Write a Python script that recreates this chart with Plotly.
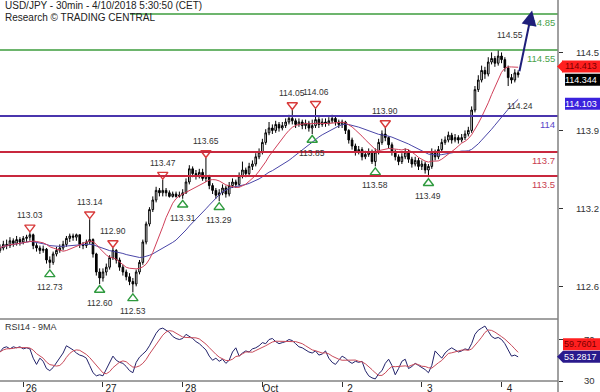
import plotly.graph_objects as go
import pandas as pd

# ---------------- data (30min USD/JPY, hourly resolution) ----------------
first_open = 112.88
closes = [
    112.90, 112.93, 112.92, 112.96, 112.94, 112.97, 112.95, 112.98, 112.99, 113.01,
    112.92, 112.90, 112.88, 112.89, 112.80, 112.78, 112.85, 112.88, 112.90, 112.93,
    112.98, 113.00, 112.99, 113.01, 112.93, 112.92, 112.95, 112.97, 112.85, 112.70,
    112.65, 112.70, 112.74, 112.82, 112.88, 112.80, 112.74, 112.70, 112.66, 112.62,
    112.60, 112.70, 112.78, 112.95, 113.10, 113.22, 113.30, 113.38, 113.36, 113.38,
    113.36, 113.33, 113.35, 113.33, 113.34, 113.36, 113.45, 113.56, 113.52, 113.50,
    113.53, 113.48, 113.50, 113.42, 113.38, 113.34, 113.36, 113.40, 113.35, 113.42,
    113.45, 113.43, 113.50, 113.55, 113.52, 113.58, 113.60, 113.66, 113.70, 113.78,
    113.86, 113.90, 113.88, 113.93, 113.90, 113.92, 113.95, 113.98, 113.96, 113.93,
    113.95, 113.92, 113.94, 113.90, 113.92, 113.97, 113.93, 113.95, 113.94, 113.96,
    113.98, 113.95, 113.93, 113.95, 113.88, 113.80, 113.75, 113.70, 113.72, 113.66,
    113.68, 113.70, 113.62, 113.70, 113.78, 113.85, 113.82, 113.76, 113.70, 113.66,
    113.62, 113.66, 113.70, 113.64, 113.60, 113.63, 113.58, 113.60, 113.55, 113.58,
    113.70, 113.66, 113.72, 113.78, 113.80, 113.84, 113.80, 113.82, 113.80, 113.82,
    113.85, 113.88, 114.05, 114.22, 114.30, 114.38, 114.35, 114.45, 114.48, 114.44,
    114.50, 114.47, 114.40, 114.32, 114.30, 114.36, 114.344]
highs = [
    112.93, 112.96, 112.97, 112.99, 112.98, 113.00, 112.99, 113.00, 113.01, 113.03,
    113.02, 112.94, 112.92, 112.92, 112.90, 112.83, 112.87, 112.91, 112.93, 112.96,
    113.00, 113.02, 113.02, 113.02, 113.01, 112.95, 112.97, 113.14, 112.98, 112.86,
    112.73, 112.73, 112.77, 112.84, 112.90, 112.89, 112.82, 112.76, 112.72, 112.69,
    112.65, 112.72, 112.80, 112.97, 113.12, 113.24, 113.33, 113.41, 113.40, 113.47,
    113.40, 113.38, 113.37, 113.37, 113.37, 113.39, 113.48, 113.59, 113.58, 113.55,
    113.56, 113.56, 113.65, 113.51, 113.44, 113.40, 113.39, 113.43, 113.42, 113.45,
    113.48, 113.47, 113.53, 113.62, 113.57, 113.61, 113.63, 113.69, 113.73, 113.81,
    113.89, 113.95, 113.93, 113.96, 113.95, 113.95, 113.98, 114.01, 114.05, 113.98,
    113.98, 113.97, 113.97, 113.96, 113.97, 114.06, 113.99, 113.98, 113.98, 113.99,
    114.01, 114.00, 113.97, 113.97, 113.96, 113.89, 113.82, 113.77, 113.75, 113.74,
    113.71, 113.73, 113.72, 113.73, 113.81, 113.88, 113.90, 113.83, 113.78, 113.72,
    113.68, 113.69, 113.73, 113.72, 113.66, 113.66, 113.65, 113.63, 113.62, 113.60,
    113.73, 113.72, 113.75, 113.81, 113.83, 113.87, 113.86, 113.85, 113.84, 113.85,
    113.88, 113.91, 114.08, 114.25, 114.34, 114.42, 114.41, 114.49, 114.53, 114.50,
    114.55, 114.53, 114.49, 114.42, 114.35, 114.39, 114.38]
lows = [
    112.86, 112.88, 112.89, 112.90, 112.91, 112.92, 112.92, 112.93, 112.95, 112.96,
    112.89, 112.87, 112.85, 112.86, 112.77, 112.73, 112.76, 112.83, 112.86, 112.88,
    112.91, 112.95, 112.96, 112.96, 112.90, 112.89, 112.90, 112.93, 112.82, 112.67,
    112.60, 112.62, 112.67, 112.72, 112.80, 112.77, 112.71, 112.67, 112.63, 112.59,
    112.53, 112.58, 112.68, 112.76, 112.93, 113.08, 113.20, 113.28, 113.33, 113.33,
    113.33, 113.32, 113.32, 113.32, 113.32, 113.31, 113.35, 113.43, 113.49, 113.47,
    113.48, 113.46, 113.45, 113.39, 113.35, 113.31, 113.29, 113.34, 113.32, 113.33,
    113.40, 113.40, 113.41, 113.48, 113.49, 113.50, 113.55, 113.58, 113.64, 113.68,
    113.76, 113.84, 113.85, 113.86, 113.87, 113.88, 113.90, 113.93, 113.93, 113.90,
    113.91, 113.89, 113.89, 113.87, 113.85, 113.90, 113.90, 113.91, 113.91, 113.92,
    113.94, 113.92, 113.90, 113.90, 113.85, 113.77, 113.72, 113.67, 113.68, 113.63,
    113.64, 113.66, 113.60, 113.58, 113.68, 113.76, 113.79, 113.73, 113.67, 113.63,
    113.59, 113.60, 113.64, 113.61, 113.57, 113.58, 113.55, 113.55, 113.52, 113.49,
    113.56, 113.63, 113.64, 113.70, 113.76, 113.78, 113.77, 113.78, 113.77, 113.78,
    113.80, 113.83, 113.86, 114.03, 114.20, 114.28, 114.31, 114.33, 114.43, 114.41,
    114.42, 114.44, 114.37, 114.25, 114.27, 114.28, 114.32]
rsi = [
    58, 62, 63, 61, 63, 62, 63, 61, 62, 61,
    52, 46, 52, 49, 42, 40, 43, 48, 52, 57,
    64, 62, 60, 57, 55, 54, 52, 45, 38, 35,
    36, 35, 41, 48, 54, 50, 48, 47, 44, 40,
    38, 48, 53, 56, 59, 64, 70, 76, 80, 81,
    79, 77, 73, 71, 70, 71, 75, 73, 71, 68,
    66, 63, 60, 54, 50, 52, 49, 51, 47, 50,
    58, 62, 54, 57, 59, 58, 61, 62, 64, 67,
    66, 70, 71, 68, 66, 67, 68, 70, 69, 66,
    63, 62, 60, 58, 57, 59, 55, 56, 59, 52,
    48, 46, 50, 54, 52, 49, 47, 49, 48, 49,
    40, 35, 33, 32, 37, 40, 47, 51, 45, 36,
    42, 49, 51, 42, 44, 47, 45, 43, 41, 38,
    45, 59, 55, 52, 57, 60, 62, 60, 58, 59,
    61, 60, 66, 75, 79, 81, 83, 78, 73, 71,
    72, 70, 66, 60, 54, 55, 53.28]

day_idx = [7, 31, 55, 79, 103, 127, 151]
day_labels = ["26", "27", "28", "Oct", "2", "3", "4"]

res_idx = [9, 27, 34, 49, 62, 88, 95, 116]
res_val = [113.03, 113.14, 112.90, 113.47, 113.65, 114.05, 114.06, 113.90]
sup_idx = [15, 30, 40, 55, 66, 94, 113, 129]
sup_val = [112.73, 112.60, 112.53, 113.31, 113.29, 113.85, 113.58, 113.49]

levels = [114.85, 114.55, 114.0, 113.7, 113.5]
level_text = ["114.85", "114.55", "114", "113.7", "113.5"]
level_kind = ["g", "g", "p", "r", "r"]

target = 114.85
arrow_from = (156.3, 114.36)
arrow_to = (160.2, 114.88)

last_close = 114.344
ma_fast_last = 114.413
ma_slow_last = 114.103
rsi_last = 53.2817
rsi_ma_last = 59.7601

price_ticks = [114.53, 113.88, 113.23, 112.58]
price_tick_text = ["114.5", "113.9", "113.2", "112.6"]

# ---------------- derived ----------------
idx = list(range(len(closes)))
opens = [first_open] + closes[:-1]
s = pd.Series(closes)
ma_fast = s.rolling(10, min_periods=1).mean()
ma_slow = s.rolling(25, min_periods=1).mean()
rsi_ma = pd.Series(rsi).rolling(5, min_periods=1).mean()

W, H = 600, 392
XR = 558 / W
p_top, p_bot = 0, 319
r_top, r_bot = 319, 381
price_range = [112.308, 114.967]
rsi_range = [30, 89.8]
x_range = [0, 168]
px_per_unit = (p_bot - p_top) / (price_range[1] - price_range[0])

FONT = "Liberation Sans, Arial, sans-serif"
RED = "#c8283e"
GREEN = "#3c9c3c"
PURP = "#4a35ad"
colmap = {"g": GREEN, "p": PURP, "r": RED}
labcol = {"g": "#4aa24a", "p": "#5a46c8", "r": "#c8404f"}

fig = go.Figure()
fig.add_trace(go.Candlestick(
    x=idx, open=opens, high=highs, low=lows, close=closes,
    increasing=dict(line=dict(color="#000000", width=1), fillcolor="#ffffff"),
    decreasing=dict(line=dict(color="#000000", width=1), fillcolor="#000000"),
    whiskerwidth=0, xaxis="x", yaxis="y", hoverinfo="skip"))
fig.add_trace(go.Scatter(x=idx, y=ma_slow, mode="lines",
                         line=dict(color="#4a46a8", width=1), xaxis="x", yaxis="y"))
fig.add_trace(go.Scatter(x=idx, y=ma_fast, mode="lines",
                         line=dict(color="#d0405a", width=1), xaxis="x", yaxis="y"))

# resistance / support triangles
fig.add_trace(go.Scatter(x=res_idx, y=[v + 5 / px_per_unit for v in res_val], mode="markers",
                         marker=dict(symbol="triangle-down-open", size=9, color="#d83a3a",
                                     line=dict(width=1.4, color="#d83a3a")),
                         xaxis="x", yaxis="y"))
fig.add_trace(go.Scatter(x=sup_idx, y=[v - 6 / px_per_unit for v in sup_val], mode="markers",
                         marker=dict(symbol="triangle-up-open", size=9, color="#2e9a3e",
                                     line=dict(width=1.4, color="#2e9a3e")),
                         xaxis="x", yaxis="y"))

# RSI
fig.add_trace(go.Scatter(x=idx, y=rsi, mode="lines",
                         line=dict(color="#22226a", width=1), xaxis="x2", yaxis="y2"))
fig.add_trace(go.Scatter(x=idx, y=rsi_ma, mode="lines",
                         line=dict(color="#c84a5a", width=1), xaxis="x2", yaxis="y2"))

shapes = []
for lv, k in zip(levels, level_kind):
    x0 = 130 / W if lv == target else 0
    shapes.append(dict(type="line", xref="paper", yref="y", x0=x0, x1=XR, y0=lv, y1=lv,
                       line=dict(color=colmap[k], width=1.5 if k == "g" else 2)))
# pane separators and right axis line
for yy in (r_top, r_bot):
    shapes.append(dict(type="line", xref="paper", yref="paper", x0=0, x1=XR,
                       y0=1 - yy / H, y1=1 - yy / H, line=dict(color="#444444", width=1)))
shapes.append(dict(type="line", xref="paper", yref="paper", x0=XR, x1=XR, y0=0, y1=1,
                   line=dict(color="#808080", width=1.5)))

ann = []
# header
ann.append(dict(xref="paper", yref="paper", x=3 / W, y=1 - 6 / H, xanchor="left", yanchor="middle",
                text="USD/JPY - 30min - 4/10/2018 5:30:50 (CET)", showarrow=False,
                font=dict(family=FONT, size=10, color="#222222")))
ann.append(dict(xref="paper", yref="paper", x=3 / W, y=1 - 17 / H, xanchor="left", yanchor="middle",
                text="Research © TRADING CENTRAL", showarrow=False,
                font=dict(family=FONT, size=10, color="#222222")))
ann.append(dict(xref="paper", yref="paper", x=3 / W, y=1 - 327 / H, xanchor="left", yanchor="middle",
                text="RSI14 - 9MA", showarrow=False,
                font=dict(family=FONT, size=9, color="#333333")))
# level labels
for lv, t, k in zip(levels, level_text, level_kind):
    ann.append(dict(xref="paper", yref="y", x=XR - 1 / W, y=lv, xanchor="right", yanchor="top",
                    yshift=-1, text=t, showarrow=False,
                    font=dict(family=FONT, size=9.5, color=labcol[k])))
# triangle labels
LBL = dict(family=FONT, size=8.5, color="#333333")
for i, v in zip(res_idx, res_val):
    ann.append(dict(x=i, y=v, xref="x", yref="y", text=f"{v:.2f}", showarrow=False,
                    yshift=17, font=LBL))
for i, v in zip(sup_idx, sup_val):
    ann.append(dict(x=i, y=v, xref="x", yref="y", text=f"{v:.2f}", showarrow=False,
                    yshift=-19, font=LBL))
ann.append(dict(x=153.6, y=max(highs), xref="x", yref="y", text=f"{max(highs):.2f}", showarrow=False,
                yshift=15, font=LBL))
ann.append(dict(x=156.6, y=114.24, xref="x", yref="y", text="114.24", showarrow=False,
                yshift=-19, font=LBL))
# projection arrow
ann.append(dict(x=arrow_to[0], y=arrow_to[1], ax=arrow_from[0], ay=arrow_from[1],
                xref="x", yref="y", axref="x", ayref="y", text="", showarrow=True,
                arrowhead=2, arrowsize=1.5, arrowwidth=2, arrowcolor="#1f1f7a"))


def box(y, yref, text, bg, fg, x0, yshift=0):
    # coloured rectangle spanning x0..right edge, text inside
    span = (price_range[1] - price_range[0]) / (p_bot - p_top) if yref == "y" else \
        (rsi_range[1] - rsi_range[0]) / (r_bot - r_top)
    yc = y + yshift * span
    shapes.append(dict(type="rect", xref="paper", yref=yref, x0=x0 / W, x1=1,
                       y0=yc - 6 * span, y1=yc + 6 * span, fillcolor=bg, line=dict(width=0)))
    ann.append(dict(xref="paper", yref=yref, x=1 - 1 / W, y=yc, xanchor="right", yanchor="middle",
                    text=text, showarrow=False,
                    font=dict(family=FONT, size=9, color=fg)))
    return span


box(ma_fast_last, "y", f"{ma_fast_last:.3f}", "#ff1f1f", "#7a0000", 562)
box(last_close, "y", f"{last_close:.3f}", "#000000", "#ffffff", 565, yshift=-5)
box(ma_slow_last, "y", f"{ma_slow_last:.3f}", "#3a22dd", "#ffffff", 565)
box(rsi_ma_last, "y2", f"{rsi_ma_last:.4f}", "#ff1f1f", "#7a0000", 563, yshift=6)
box(rsi_last, "y2", f"{rsi_last:.4f}", "#2a1a8c", "#ffffff", 563)
# pointed tips
for y, yref, col in [(ma_fast_last, "y", "#ff1f1f"), (rsi_last, "y2", "#2a1a8c")]:
    span = (price_range[1] - price_range[0]) / (p_bot - p_top) if yref == "y" else \
        (rsi_range[1] - rsi_range[0]) / (r_bot - r_top)
    shapes.append(dict(type="path", xref="paper", yref=yref, fillcolor=col, line=dict(width=0),
                       path=f"M {557 / W} {y} L {563 / W} {y + 6 * span} L {563 / W} {y - 6 * span} Z"))

fig.update_layout(
    width=W, height=H, margin=dict(l=0, r=0, t=0, b=0, autoexpand=False),
    paper_bgcolor="white", plot_bgcolor="white", showlegend=False,
    shapes=shapes, annotations=ann,
    xaxis=dict(domain=[0, XR], range=x_range, anchor="y", showticklabels=False, ticks="",
               showgrid=False, zeroline=False, rangeslider=dict(visible=False), matches="x2",
               automargin=False),
    xaxis2=dict(domain=[0, XR], range=x_range, anchor="y2", tickvals=day_idx, ticktext=day_labels,
                ticks="outside", ticklen=5, tickcolor="#333333", ticklabelshift=8,
                ticklabelstandoff=-7, automargin=False,
                tickfont=dict(family=FONT, size=10, color="#222222"),
                showgrid=False, zeroline=False, showline=False),
    yaxis=dict(domain=[1 - p_bot / H, 1 - p_top / H], range=price_range, anchor="x", side="right",
               tickvals=price_ticks, ticktext=price_tick_text, ticks="outside", ticklen=4,
               tickcolor="#333333", ticklabelstandoff=11, automargin=False,
               tickfont=dict(family=FONT, size=9.5, color="#333333"),
               showgrid=False, zeroline=False),
    yaxis2=dict(domain=[1 - r_bot / H, 1 - r_top / H], range=rsi_range, anchor="x2", side="right",
                tickvals=[30, 70], ticktext=["30", "70"], ticks="outside", ticklen=4,
                tickcolor="#333333", ticklabelstandoff=19, automargin=False,
                tickfont=dict(family=FONT, size=9.5, color="#333333"),
                showgrid=False, zeroline=False),
)

fig.write_html("out.html")
